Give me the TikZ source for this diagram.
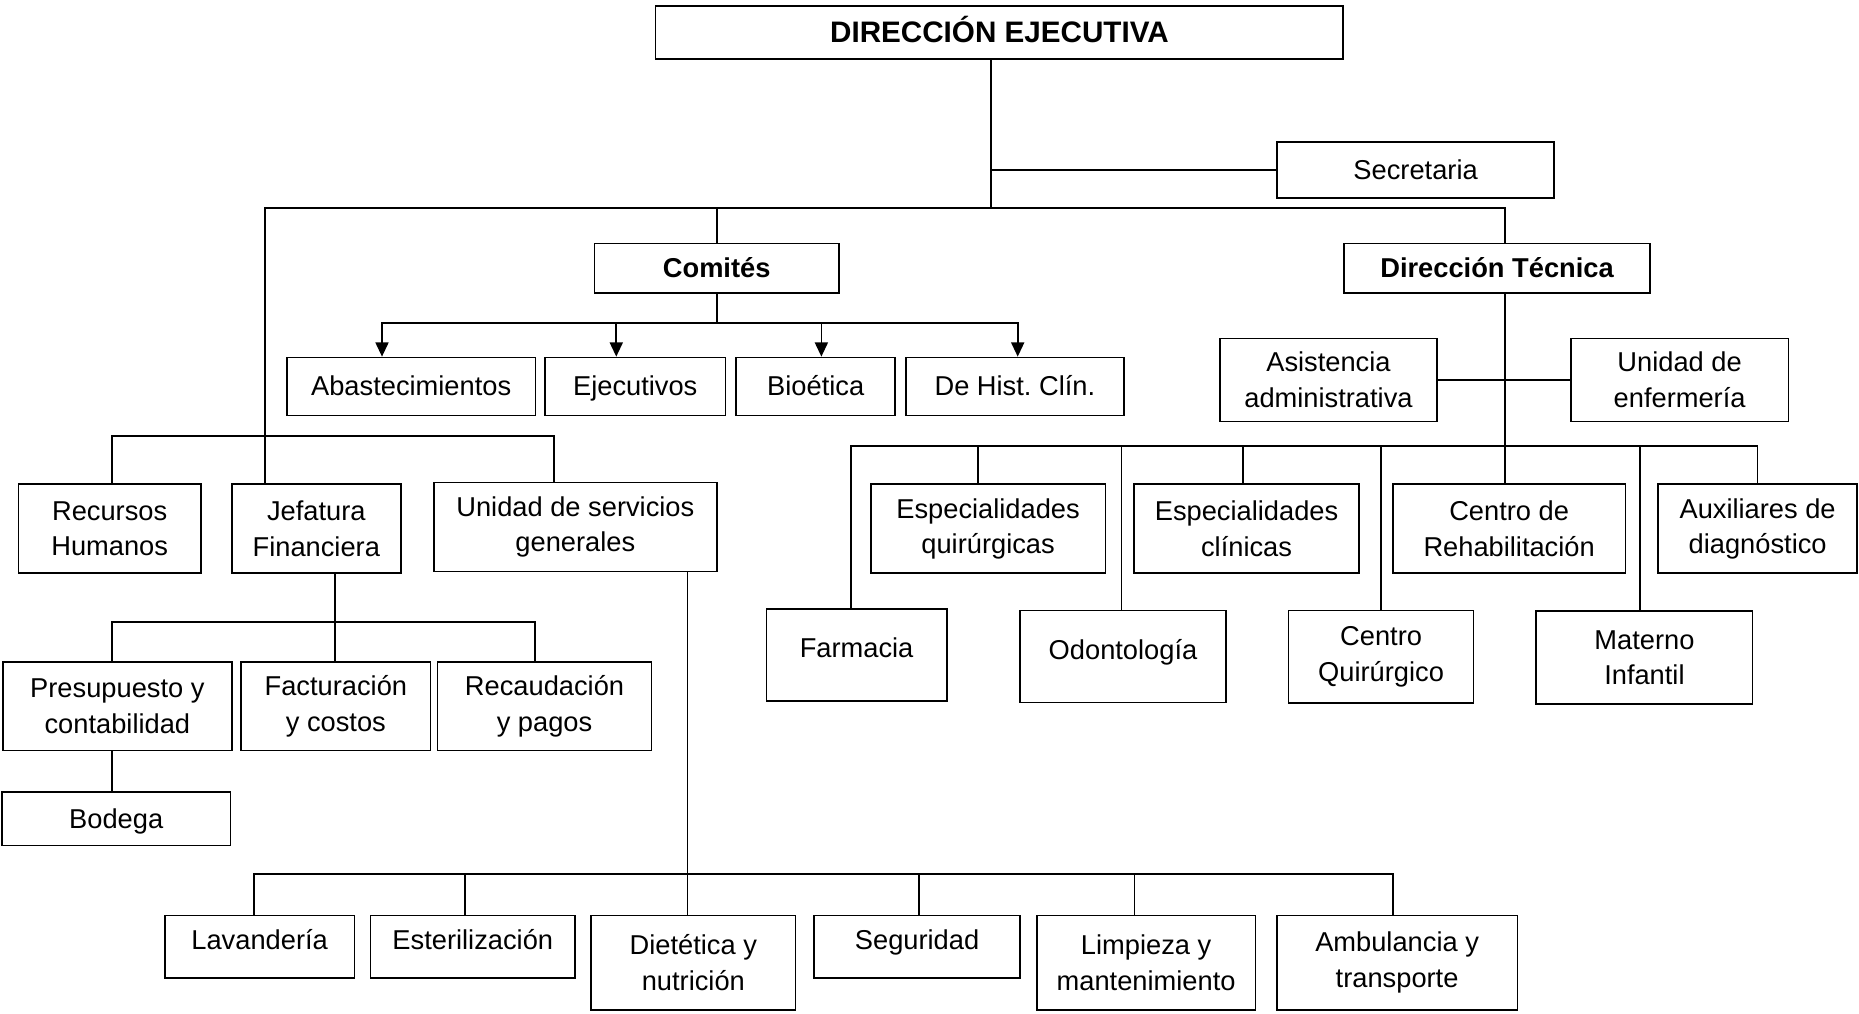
\documentclass[tikz,border=0pt]{standalone}
\usepackage{fontspec}
\setmainfont{Liberation Sans}
\usetikzlibrary{arrows.meta}
\frenchspacing

\begin{document}
\begin{tikzpicture}[x=1pt, y=-1pt, line width=1.4pt, line cap=rect,
  caja/.style={draw, align=center, inner sep=0pt, font=\fontsize{23}{30}\selectfont},
  una/.style={caja, text height=19pt, text depth=3pt},
  jefe/.style={una, font=\fontsize{23}{30}\selectfont\bfseries},
  arriba/.style={una, text depth=14pt},
  flecha/.style={line cap=butt, -{Triangle[width=11pt,length=12pt]}}]
  \fill[white] (0,0) rectangle (1568,855);
  \useasboundingbox (0,0) rectangle (1568,855);
  % niveles superiores
  \node[jefe, minimum width=580pt, minimum height=45pt, font=\fontsize{25}{30}\selectfont\bfseries] (dirEj) at (843,27.5) {DIRECCIÓN EJECUTIVA};
  \node[una, minimum width=234pt, minimum height=47pt] (secr) at (1194,143.5) {Secretaria};
  \node[jefe, minimum width=206pt, minimum height=42pt] (comites) at (604.5,226.3) {Comités};
  \node[jefe, minimum width=258.5pt, minimum height=42pt] (dirTec) at (1262.7,226.3) {Dirección Técnica};
  % comites
  \node[una, minimum width=209.5pt, minimum height=49pt] (abast) at (346.8,326) {Abastecimientos};
  \node[una, minimum width=152.5pt, minimum height=49pt] (ejec) at (535.8,326) {Ejecutivos};
  \node[una, minimum width=134pt, minimum height=49pt] (bioet) at (688,326) {Bioética};
  \node[una, minimum width=184pt, minimum height=49pt] (hist) at (856,326) {De Hist. Clín.};
  % direccion tecnica
  \node[caja, minimum width=183pt, minimum height=70pt] (asist) at (1120.5,320.5) {Asistencia\\administrativa};
  \node[caja, minimum width=183.5pt, minimum height=70pt] (enferm) at (1416.7,320.5) {Unidad de\\enfermería};
  \node[caja, minimum width=198pt, minimum height=75pt] (espQx) at (833.4,446) {Especialidades\\quirúrgicas};
  \node[caja, minimum width=190pt, minimum height=75pt] (espCl) at (1051.4,446) {Especialidades\\clínicas};
  \node[caja, minimum width=196pt, minimum height=75pt] (rehab) at (1272.9,446) {Centro de\\Rehabilitación};
  \node[caja, minimum width=168pt, minimum height=75pt] (auxil) at (1482.5,446) {Auxiliares de\\diagnóstico};
  \node[arriba, minimum width=152pt, minimum height=77.6pt] (farm) at (722.5,552.4) {Farmacia};
  \node[arriba, minimum width=173.5pt, minimum height=77.6pt] (odont) at (947.2,553.8) {Odontología};
  \node[caja, minimum width=156pt, minimum height=78pt] (cenQx) at (1164.9,554) {Centro\\Quirúrgico};
  \node[caja, minimum width=182.5pt, minimum height=78.4pt] (matern) at (1387,554.6) {Materno\\Infantil};
  % area administrativa
  \node[caja, minimum width=154pt, minimum height=75pt] (rrhh) at (92.5,446) {Recursos\\Humanos};
  \node[caja, minimum width=142.5pt, minimum height=75pt] (jefat) at (266.8,446) {Jefatura\\Financiera};
  \node[caja, minimum width=238.5pt, minimum height=75.3pt] (unidSG) at (485.3,444.5) {Unidad de servicios\\generales};
  \node[caja, minimum width=193pt, minimum height=74.8pt] (presup) at (99,595.7) {Presupuesto y\\contabilidad};
  \node[caja, minimum width=159.5pt, minimum height=74.8pt] (factur) at (283.3,595.7) {Facturación\\y costos};
  \node[caja, minimum width=180.5pt, minimum height=74.8pt] (recaud) at (459.3,595.7) {Recaudación\\y pagos};
  \node[una, minimum width=193pt, minimum height=45.3pt] (bodega) at (98,690.4) {Bodega};
  % servicios generales
  \node[arriba, minimum width=160pt, minimum height=52.6pt] (lavand) at (219,798.6) {Lavandería};
  \node[arriba, minimum width=172.5pt, minimum height=52.6pt] (esteril) at (398.8,798.6) {Esterilización};
  \node[caja, minimum width=172.5pt, minimum height=79.5pt] (dietet) at (584.8,812) {Dietética y\\nutrición};
  \node[arriba, minimum width=174pt, minimum height=52.6pt] (segur) at (773.5,798.6) {Seguridad};
  \node[caja, minimum width=184.5pt, minimum height=79.5pt] (limp) at (966.7,812) {Limpieza y\\mantenimiento};
  \node[caja, minimum width=203pt, minimum height=79.5pt] (ambul) at (1178.4,812) {Ambulancia y\\transporte};

  % conectores principales
  \coordinate (tronco) at (836,175.7);
  \coordinate (busIzq) at (223.5,175.7);
  \coordinate (busDer) at (1269.4,175.7);
  \draw ([xshift=-7pt]dirEj.south) -- (tronco);
  \draw (busIzq |- jefat.north) -- (busIzq) -- (busDer) -- (busDer |- dirTec.north);
  \draw (secr.west) -- (secr.west -| tronco);
  \draw (comites.north) -- (comites.north |- tronco);
  % comites
  \coordinate (cIni) at (322.2,272.2);
  \coordinate (cFin) at (858.4,272.2);
  \draw (comites.south) -- (comites.south |- cIni);
  \draw (cIni) -- (cFin);
  \foreach \x/\n in {322.2/abast, 519.8/ejec, 692.8/bioet, 858.4/hist} {
    \coordinate (t) at (\x,272.2);
    \draw[flecha] (t) -- (t |- \n.north);
  }
  % direccion tecnica
  \coordinate (rIni) at (718,376.2);
  \coordinate (rFin) at (1482.4,376.2);
  \draw (busDer |- dirTec.south) -- (busDer |- rehab.north);
  \draw (asist.east) -- (enferm.west);
  \draw (rIni) -- (rFin);
  \foreach \x/\n in {718/farm, 824.9/espQx, 945.9/odont, 1048.4/espCl, 1164.9/cenQx, 1383/matern, 1482.4/auxil} {
    \coordinate (t) at (\x,376.2);
    \draw (t) -- (t |- \n.north);
  }
  % area administrativa
  \coordinate (lIni) at (94.5,367.7);
  \coordinate (lFin) at (467,367.7);
  \draw (lIni |- rrhh.north) -- (lIni) -- (lFin) -- (lFin |- unidSG.north);
  \coordinate (fIni) at (94.5,524.6);
  \coordinate (fMed) at (282.5,524.6);
  \coordinate (fFin) at (451.5,524.6);
  \draw (fMed |- jefat.south) -- (fMed |- factur.north);
  \draw (fIni |- presup.north) -- (fIni) -- (fFin) -- (fFin |- recaud.north);
  \draw (fIni |- presup.south) -- (fIni |- bodega.north);
  % servicios generales
  \coordinate (sIni) at (214,736.9);
  \coordinate (sMed) at (580,736.9);
  \coordinate (sFin) at (1174.9,736.9);
  \draw (sMed |- unidSG.south) -- (sMed |- dietet.north);
  \draw (sIni |- lavand.north) -- (sIni) -- (sFin) -- (sFin |- ambul.north);
  \foreach \x/\n in {392/esteril, 775/segur, 956.9/limp} {
    \coordinate (t) at (\x,736.9);
    \draw (t) -- (t |- \n.north);
  }
\end{tikzpicture}
\end{document}
